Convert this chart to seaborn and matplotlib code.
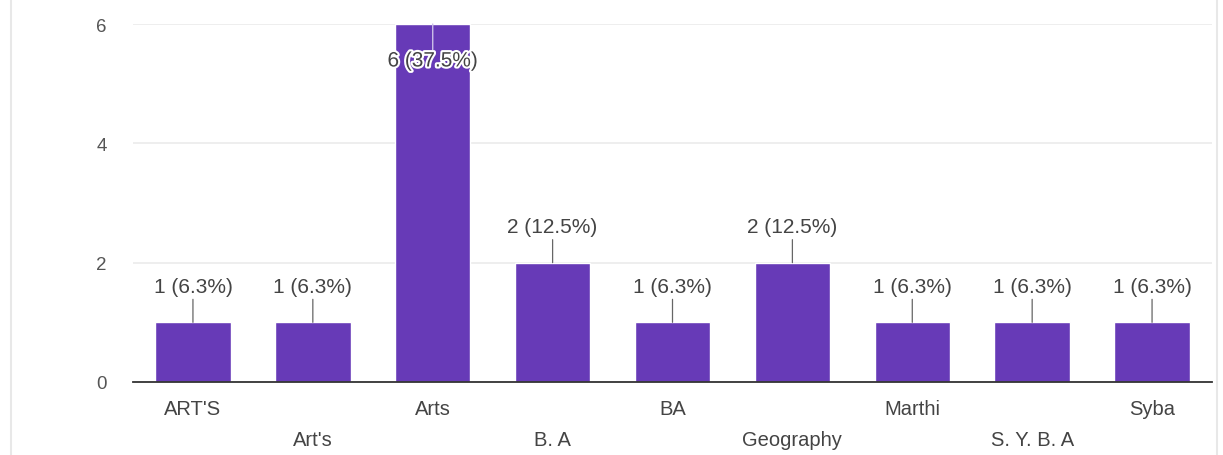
import matplotlib
matplotlib.use("Agg")
import matplotlib.pyplot as plt
import matplotlib.transforms as mtransforms
import matplotlib.patheffects as pe
import seaborn as sns
import pandas as pd

categories = ["ART'S", "Art's", "Arts", "B. A", "BA", "Geography", "Marthi", "S. Y. B. A", "Syba"]
counts = [1, 1, 6, 2, 1, 2, 1, 1, 1]
percents = ["6.3%", "6.3%", "37.5%", "12.5%", "6.3%", "12.5%", "6.3%", "6.3%", "6.3%"]
y_ticks = [0, 2, 4, 6]

sns.set_theme(style="white")
plt.rcParams['font.family'] = ['Liberation Sans', 'DejaVu Sans']

W, H = 1223, 456
fig = plt.figure(figsize=(W / 100, H / 100), dpi=100)
ax = fig.add_axes([133 / W, 1 - 383 / H, (1212 - 133) / W, (383 - 25) / H])

df = pd.DataFrame({"cat": categories, "n": counts})
sns.barplot(data=df, x="cat", y="n", color="#673ab7", saturation=1, width=0.63, ax=ax)

ax.set_ylim(0, 6)
ax.set_xlim(-0.5, len(categories) - 0.5)
ax.set_yticks(y_ticks)
ax.set_yticklabels([str(t) for t in y_ticks])
ax.yaxis.grid(True, color="#ebebeb", lw=1.2)
ax.set_axisbelow(True)
for s in ["top", "right", "left"]:
    ax.spines[s].set_visible(False)
ax.spines["bottom"].set_color("#333333")
ax.spines["bottom"].set_linewidth(1.3)
ax.set_xlabel("")
ax.set_ylabel("")
ax.tick_params(axis="y", length=0, pad=19, labelsize=13.5, labelcolor="#555555")
ax.tick_params(axis="x", length=0, pad=12, labelsize=14.5, labelcolor="#444444")

offset = mtransforms.ScaledTranslation(0, -31 / 100, fig.dpi_scale_trans)
for i, lab in enumerate(ax.get_xticklabels()):
    if i % 2 == 1:
        lab.set_transform(lab.get_transform() + offset)

top = max(y_ticks)
for i, (v, p) in enumerate(zip(counts, percents)):
    txt = f"{v} ({p})"
    if v >= top:
        ax.annotate("", xy=(i, v), xytext=(0, -26), textcoords="offset pixels",
                    arrowprops=dict(arrowstyle="-", color="#cbbfe8", lw=1.0, shrinkA=0, shrinkB=0))
        ax.annotate(txt, xy=(i, v), xytext=(0, -37), textcoords="offset pixels",
                    ha="center", va="center", fontsize=15, color="#444444",
                    path_effects=[pe.withStroke(linewidth=3, foreground="white")])
    else:
        ax.annotate("", xy=(i, v), xytext=(0, 23), textcoords="offset pixels",
                    arrowprops=dict(arrowstyle="-", color="#666666", lw=0.9, shrinkA=0, shrinkB=0))
        ax.annotate(txt, xy=(i, v), xytext=(0, 36), textcoords="offset pixels",
                    ha="center", va="center", fontsize=15, color="#444444")

for xb in (11, 1217):
    fig.add_artist(plt.Line2D([xb / W, xb / W], [0, 1], color="#e8e8e8", lw=1.5,
                              transform=fig.transFigure))

fig.savefig("out.png", dpi=100)
